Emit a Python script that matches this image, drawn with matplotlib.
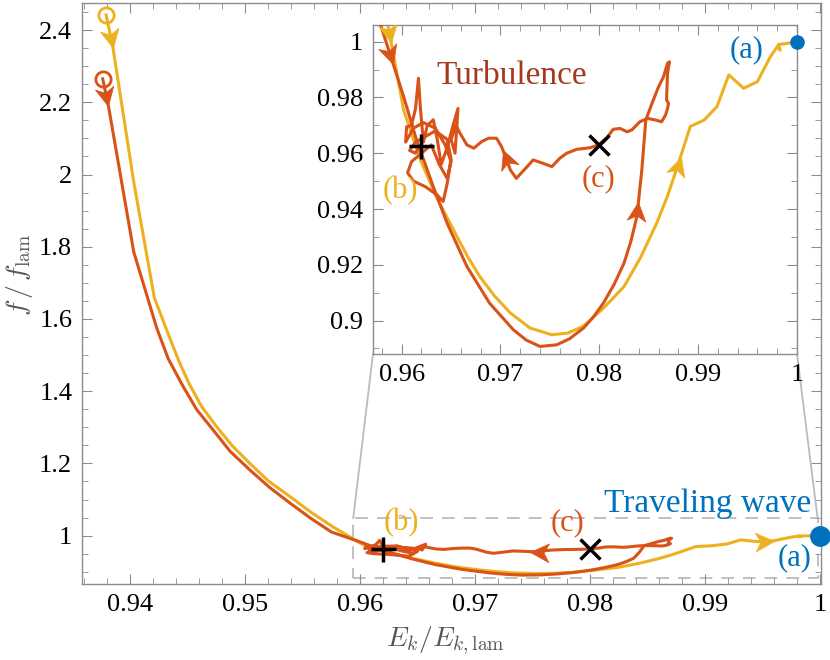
import numpy as np
import matplotlib
matplotlib.use('Agg')
import matplotlib.pyplot as plt
from matplotlib.markers import MarkerStyle
from matplotlib.path import Path
from matplotlib.transforms import Affine2D
from matplotlib.patches import Rectangle
from matplotlib.lines import Line2D
from matplotlib.ticker import MultipleLocator, FuncFormatter

plt.rcParams['font.family'] = ['Liberation Serif', 'DejaVu Serif']
plt.rcParams['mathtext.fontset'] = 'cm'

BLUE = '#0072BD'
RED = '#D95319'
YELLOW = '#EDB120'
DARKRED = '#A33A1E'
GRAY = '#8c8c8c'
SERIF = 'Liberation Serif'

# trajectory 1 (yellow): laminar start -> (b) -> travelling wave (a)
yellow_x = [0.9379, 0.9385, 0.9403, 0.9421, 0.9435, 0.9443, 0.9451, 0.9462,
            0.9475, 0.9489, 0.9504, 0.9520, 0.9539, 0.9558, 0.9577, 0.9588,
            0.9602, 0.9619, 0.9635, 0.9656, 0.9667, 0.9679, 0.9694, 0.9710,
            0.9730, 0.9752, 0.9768, 0.9784, 0.9804, 0.9825, 0.9842, 0.9858,
            0.9869, 0.9879, 0.9892, 0.9906, 0.9919, 0.9931, 0.9946, 0.9960,
            0.9973, 0.9980, 0.9983, 0.9981, 0.9990, 1.0000]
yellow_y = [2.442, 2.350, 1.980, 1.658, 1.542, 1.478, 1.422, 1.358,
            1.302, 1.248, 1.200, 1.152, 1.108, 1.063, 1.023, 1.0024,
            0.9755, 0.9576, 0.9444, 0.9301, 0.9228, 0.9158, 0.9088, 0.9027,
            0.8973, 0.8949, 0.8955, 0.8980, 0.9044, 0.9122, 0.9228, 0.9349,
            0.9447, 0.9552, 0.9696, 0.9719, 0.9767, 0.9881, 0.9833, 0.9857,
            0.9946, 0.9982, 0.9970, 0.9990, 0.9994, 1.0000]

# trajectory 2 (red): laminar start -> U -> turbulence around (c) and (b)
red_x = [0.9376, 0.9381, 0.9403, 0.9423, 0.9433, 0.9446, 0.9458, 0.9472,
         0.9487, 0.9504, 0.9521, 0.9539, 0.9557, 0.9575,
         0.9588, 0.9602, 0.9615, 0.9632, 0.9646, 0.9666, 0.9689, 0.9713,
         0.9726, 0.9740, 0.9757, 0.9770, 0.9784, 0.9794, 0.9804, 0.9815,
         0.9825, 0.9832, 0.9838, 0.9843, 0.9847,
         0.98533, 0.9860, 0.9865, 0.9869, 0.9871, 0.9869, 0.9868, 0.9870,
         0.9869, 0.9867, 0.9863, 0.9857, 0.9849, 0.9841, 0.9833, 0.9828,
         0.9821, 0.9814, 0.9808, 0.9799, 0.9791, 0.9777, 0.9767, 0.9760,
         0.9752, 0.9743, 0.9733, 0.9727, 0.9716, 0.9710, 0.9705, 0.9701,
         0.9696, 0.9688, 0.9681, 0.9673, 0.9666, 0.9659,
         0.9655, 0.9650, 0.9654, 0.9657, 0.9652, 0.9646, 0.9640, 0.9636,
         0.9632, 0.9626, 0.9622, 0.9619, 0.9617, 0.9614, 0.9610, 0.9605,
         0.9604, 0.9612, 0.9622, 0.9634, 0.9644, 0.9650, 0.9646, 0.9638,
         0.9630, 0.9620, 0.9610, 0.9606, 0.9612, 0.9624, 0.9636, 0.9642,
         0.9646, 0.9650, 0.9646, 0.9634, 0.9624, 0.9614, 0.9608, 0.9614,
         0.9618]
red_y = [2.265, 2.190, 1.786, 1.575, 1.490, 1.413, 1.348, 1.293,
         1.233, 1.182, 1.134, 1.090, 1.048, 1.010,
         0.9958, 0.9803, 0.9648, 0.9480, 0.9349, 0.9194, 0.9062, 0.8967,
         0.8930, 0.8907, 0.8913, 0.8935, 0.8973, 0.9013, 0.9062, 0.9130,
         0.9206, 0.9285, 0.9373, 0.9540, 0.9719,
         0.9779, 0.9839, 0.9875, 0.9923, 0.9928, 0.9887, 0.9791, 0.9779,
         0.9760, 0.9737, 0.9713, 0.9719, 0.9725, 0.9713, 0.9684, 0.9677,
         0.9689, 0.9686, 0.9657, 0.9630, 0.9620, 0.9614, 0.9600, 0.9582,
         0.9552, 0.9564, 0.9576, 0.9552, 0.9510, 0.9540, 0.9588, 0.9624,
         0.9654, 0.9654, 0.9642, 0.9618, 0.9630, 0.9672,
         0.9700, 0.9650, 0.9600, 0.9761, 0.9700, 0.9620, 0.9560, 0.9650,
         0.9720, 0.9700, 0.9640, 0.9760, 0.9869, 0.9760, 0.9700, 0.9695,
         0.9640, 0.9690, 0.9710, 0.9690, 0.9630, 0.9570, 0.9510, 0.9560,
         0.9630, 0.9600, 0.9570, 0.9530, 0.9500, 0.9480, 0.9450, 0.9427,
         0.9490, 0.9580, 0.9650, 0.9680, 0.9660, 0.9640, 0.9610, 0.9600,
         0.9625]

# special states
point_a = (1.0, 1.0)       # travelling wave
point_b = (0.962, 0.9625)  # '+'
point_c = (0.980, 0.963)   # 'x'

# arrows: (series, segment index, fraction along segment)
main_arrows = [('y', 0, 1.0), ('r', 0, 1.0), ('r', 59, 0.5), ('y', 38, 1.0)]
inset_arrows = [('y', 15, 0.11), ('r', 14, 0.25), ('r', 32, 0.32),
                ('r', 65, 0.67), ('y', 33, 0.25)]

arrow_path = Path([(0, 0), (-1, 0.5), (-0.72, 0), (-1, -0.5), (0, 0)],
                  [Path.MOVETO, Path.LINETO, Path.LINETO, Path.LINETO, Path.CLOSEPOLY])

series = {'y': (yellow_x, yellow_y, YELLOW), 'r': (red_x, red_y, RED)}


def fmt(v, pos):
    return ('%.3f' % v).rstrip('0').rstrip('.')


def add_arrow(ax, key, i, t, ms=27):
    xs, ys, c = series[key]
    x0, y0, x1, y1 = xs[i], ys[i], xs[i + 1], ys[i + 1]
    px, py = x0 + t * (x1 - x0), y0 + t * (y1 - y0)
    d = ax.transData.transform((x1, y1)) - ax.transData.transform((x0, y0))
    ang = np.degrees(np.arctan2(d[1], d[0]))
    m = MarkerStyle(arrow_path, transform=Affine2D().rotate_deg(ang))
    ax.plot(px, py, marker=m, ms=ms, color=c, mec=c, mew=0.5, zorder=4)


def style_axes(ax):
    for s in ax.spines.values():
        s.set_color(GRAY)
        s.set_linewidth(1.0)
    ax.tick_params(which='both', direction='in', top=True, right=True,
                   color=GRAY, labelsize=19, pad=7, labelfontfamily=SERIF)
    ax.tick_params(which='major', length=7)
    ax.tick_params(which='minor', length=4)
    ax.xaxis.set_major_formatter(FuncFormatter(fmt))
    ax.yaxis.set_major_formatter(FuncFormatter(fmt))


fig = plt.figure(figsize=(8.3, 6.6), dpi=100)
ax = fig.add_axes([82 / 830, 1 - 584 / 660, (821 - 82) / 830, (584 - 3) / 660])
ax.set_xlim(0.9358, 1.0001)
ax.set_ylim(0.866, 2.475)
ax.xaxis.set_major_locator(MultipleLocator(0.01))
ax.xaxis.set_minor_locator(MultipleLocator(0.002))
ax.yaxis.set_major_locator(MultipleLocator(0.2))
ax.yaxis.set_minor_locator(MultipleLocator(0.05))
style_axes(ax)

ax.set_xlabel(r'$E_k/E_{k,\mathrm{lam}}$', fontsize=20, color='#555555')
ax.set_ylabel(r'$f\,/\,f_{\mathrm{lam}}$', fontsize=20, color='#555555')
ax.xaxis.set_label_coords(0.491, -0.069)
ax.yaxis.set_label_coords(-0.064, 0.532)

# zoom box
box = Rectangle((0.9594, 0.883), 0.9998 - 0.9594, 1.049 - 0.883, fill=False,
                ec='#bbbbbb', lw=1.3, ls=(0, (7, 5)), zorder=1)
ax.add_patch(box)

axi = fig.add_axes([373 / 830, 1 - 354 / 660, (797 - 373) / 830, (354 - 25) / 660],
                   zorder=3)
axi.set_facecolor('white')
axi.set_xlim(0.9571, 1.0)
axi.set_ylim(0.888, 1.006)
axi.xaxis.set_major_locator(MultipleLocator(0.01))
axi.xaxis.set_minor_locator(MultipleLocator(0.002))
axi.yaxis.set_major_locator(MultipleLocator(0.02))
axi.yaxis.set_minor_locator(MultipleLocator(0.01))
style_axes(axi)

for a in (ax, axi):
    a.plot(yellow_x, yellow_y, color=YELLOW, lw=2.2, zorder=2, solid_joinstyle='round')
    a.plot(red_x, red_y, color=RED, lw=2.2, zorder=3, solid_joinstyle='round')
    a.plot(*point_b, marker='+', ms=18, mew=2.5, color='black', zorder=5)
    a.plot(*point_c, marker='x', ms=14, mew=2.5, color='black', zorder=5)

ax.plot(yellow_x[0], yellow_y[0], 'o', ms=11, mfc='none', mec=YELLOW, mew=2, zorder=4)
ax.plot(red_x[0], red_y[0], 'o', ms=11, mfc='none', mec=RED, mew=2, zorder=4)
ax.plot(*point_a, 'o', ms=14, color=BLUE, zorder=6, clip_on=False)
axi.plot(*point_a, 'o', ms=9.5, color=BLUE, zorder=6, clip_on=False)

for k, i, t in main_arrows:
    add_arrow(ax, k, i, t)
for k, i, t in inset_arrows:
    add_arrow(axi, k, i, t)

ax.text(0.9902, 1.0665, 'Traveling wave', color=BLUE, fontsize=24, ha='center', va='baseline')
ax.text(0.9978, 0.94, '(a)', color=BLUE, fontsize=22, ha='center', va='center')
ax.text(0.96355, 1.0366, '(b)', color=YELLOW, fontsize=22, ha='center', va='center')
ax.text(0.97804, 1.0366, '(c)', color=RED, fontsize=22, ha='center', va='center')

axi.text(0.97115, 0.9848, 'Turbulence', color=DARKRED, fontsize=24, ha='center', va='baseline')
axi.text(0.99486, 0.9973, '(a)', color=BLUE, fontsize=22, ha='center', va='center')
axi.text(0.95983, 0.94656, '(b)', color=YELLOW, fontsize=22, ha='center', va='center')
axi.text(0.97992, 0.95086, '(c)', color=RED, fontsize=22, ha='center', va='center')

# connector lines from inset corners to zoom box
inv = fig.transFigure.inverted()
ib = axi.get_position()
for ix, bx in ((ib.x0, 0.9594), (ib.x1, 0.9998)):
    fx, fy = inv.transform(ax.transData.transform((bx, 1.049)))
    fig.add_artist(Line2D([ix, fx], [ib.y0, fy], transform=fig.transFigure,
                          color='#bbbbbb', lw=1.3, zorder=2))

fig.savefig('out.png', dpi=100)
